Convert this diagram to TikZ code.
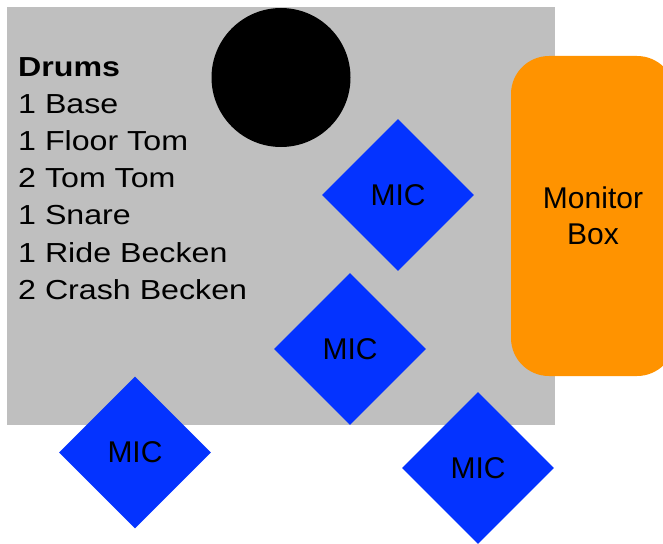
\documentclass[tikz,border=0pt]{standalone}
\usepackage{fontspec}
\setmainfont{Liberation Sans}
\newfontfamily\listfont{Liberation Sans}[FakeStretch=1.17]
\usetikzlibrary{shapes.geometric}
\definecolor{stagegray}{HTML}{BFBFBF}
\definecolor{micblue}{HTML}{0433FF}
\definecolor{monorange}{HTML}{FF9300}
\tikzset{
  mic/.style={diamond, aspect=1, fill=micblue, draw=none, inner sep=0pt,
    minimum width=152pt, minimum height=152pt,
    font=\fontsize{30}{36}\selectfont},
  listline/.style={anchor=base west, inner sep=0pt,
    font=\listfont\fontsize{27.5}{37}\selectfont},
  monitorbox/.style={rectangle, rounded corners=38pt, fill=monorange, draw=none,
    minimum width=164pt, minimum height=320pt, inner sep=0pt, align=center,
    font=\fontsize{30}{36}\selectfont}
}
\begin{document}
\begin{tikzpicture}[x=1pt,y=-1pt]
\clip (0,0) rectangle (663,543);
\fill[white] (0,0) rectangle (663,543);
\node[fill=stagegray, draw=none, inner sep=0pt, anchor=north west,
  minimum width=548pt, minimum height=418pt] (stage) at (7,7) {};
\node[circle, fill=black, inner sep=0pt, minimum size=139pt] (bass) at (281,77.5) {};
\node[monitorbox] (monitor) at (593,216) {Monitor\\Box};
\node[listline] (l0) at (18,76) {\bfseries Drums};
\node[listline] (l1) at (18,113.2) {1 Base};
\node[listline] (l2) at (18,150.4) {1 Floor Tom};
\node[listline] (l3) at (18,187.6) {2 Tom Tom};
\node[listline] (l4) at (18,224.8) {1 Snare};
\node[listline] (l5) at (18,262) {1 Ride Becken};
\node[listline] (l6) at (18,299.2) {2 Crash Becken};
\node[mic] (mic1) at (398,195) {MIC};
\node[mic] (mic2) at (350,349) {MIC};
\node[mic] (mic3) at (135,452.5) {MIC};
\node[mic] (mic4) at (478,468) {MIC};
\end{tikzpicture}
\end{document}
